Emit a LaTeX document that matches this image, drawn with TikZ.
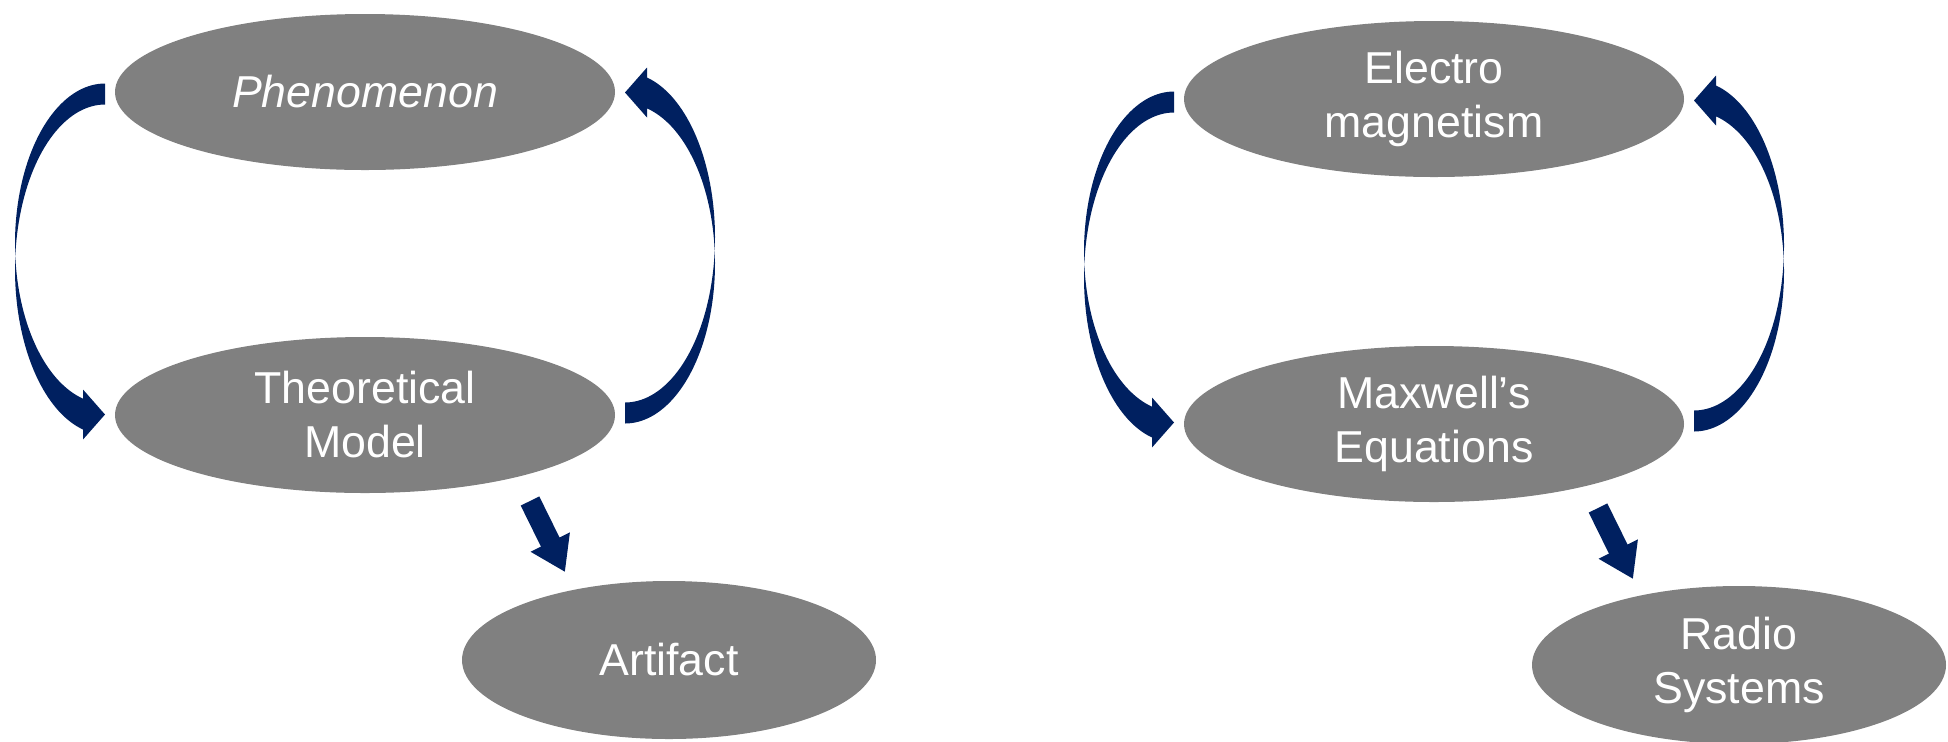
\documentclass[tikz,border=0pt]{standalone}
\usepackage{fontspec}
\setmainfont{Liberation Sans}
\usetikzlibrary{calc,arrows.meta,shapes.geometric}
\definecolor{bubblegray}{RGB}{128,128,128}
\definecolor{navy}{RGB}{0,32,96}
\begin{document}
\begin{tikzpicture}[x=0.5pt,y=-0.5pt,
  bubble/.style={ellipse, fill=bubblegray, text=white, inner sep=0pt, align=center,
    font=\fontsize{22.35pt}{27pt}\selectfont},
  big/.style={bubble, minimum width=250pt, minimum height=78pt},
  small/.style={bubble, minimum width=207pt, minimum height=79pt},
  stepper/.style={navy, line width=10.35pt,
    -{Triangle[width=20.7pt,length=16.7pt]}},
  % crescent-shaped block arrow: thick end at the top, head at the bottom
  loop arrow/.pic={
    \fill[navy]
      plot[domain=-90:-255.85, samples=80, variable=\t]
        ({-260+90*cos(\t)}, {-10+160*sin(\t)})
      -- (-282,136) -- (-260,161) -- (-282,186)
      -- plot[domain=-255.85:-90, samples=80, variable=\t]
        ({-260+90*cos(\t)}, {16+165*sin(\t)})
      -- cycle;
  }
]
\useasboundingbox (0,0) rectangle (1948,741);
\clip (0,0) rectangle (1948,741);

% left cycle
\node[big] (phen) at (365,92) {\itshape Phenomenon};
\node[big] (theo) at (365,415) {Theoretical\\Model};
\node[small] (art) at (669,660) {Artifact};

\coordinate (lc) at ($(phen)!0.5!(theo)$);
\pic at (lc) {loop arrow};
\pic[rotate=180] at (lc) {loop arrow};

\coordinate (ls) at ($(theo)+(165,86)$);
\coordinate (le) at ($(theo)+(200,157)$);
\draw[stepper] (ls) -- (le);

% right cycle
\node[big] (emag) at (1434,99) {Electro\\magnetism};
\node[big] (maxw) at (1434,424) {Maxwell’s\\Equations};
\node[small] (radio) at (1739,665) {Radio\\Systems};

\coordinate (rc) at ($(emag)!0.5!(maxw)$);
\pic at (rc) {loop arrow};
\pic[rotate=180] at (rc) {loop arrow};

\coordinate (rs) at ($(maxw)+(164,84)$);
\coordinate (re) at ($(maxw)+(199,155)$);
\draw[stepper] (rs) -- (re);
\end{tikzpicture}
\end{document}
